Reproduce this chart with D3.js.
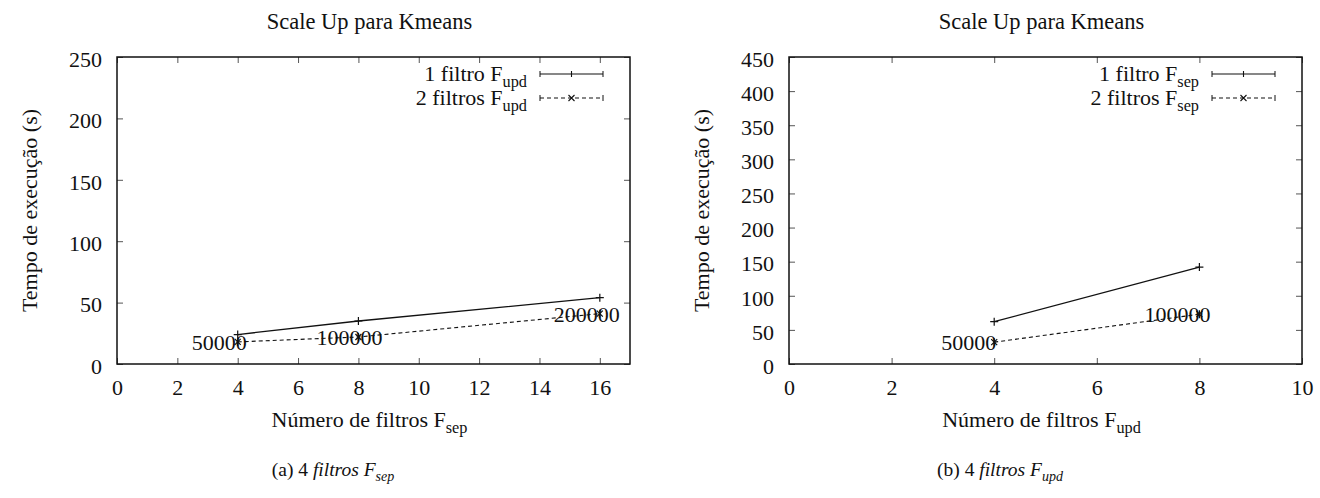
<!DOCTYPE html>
<html>
<head>
<meta charset="utf-8">
<title>Scale Up para Kmeans</title>
<script src="https://cdn.jsdelivr.net/npm/d3@7"></script>
<style>
  body { margin: 0; background: #fff; }
  svg text { font-family: "Liberation Serif", "Times New Roman", serif !important; fill: #111; }
  .axis path, .axis line { stroke: #222; }
  .axis .tick line { stroke: #555; }
</style>
</head>
<body>
<script>
// Tempos medidos (s) - painel (a): varia F_sep
const xSep = [4, 8, 16];
const tempoUmUpd = [24, 35, 54];
const tempoDoisUpd = [18, 22, 41];
const pontosSep = ["50000", "100000", "200000"];
const ticksXSep = [0, 2, 4, 6, 8, 10, 12, 14, 16];
const ticksYSep = [0, 50, 100, 150, 200, 250];

// painel (b): varia F_upd
const xUpd = [4, 8];
const tempoUmSep = [62, 142];
const tempoDoisSep = [32, 73];
const pontosUpd = ["50000", "100000"];
const ticksXUpd = [0, 2, 4, 6, 8, 10];
const ticksYUpd = [0, 50, 100, 150, 200, 250, 300, 350, 400, 450];

const W = 1320, H = 498;

const svg = d3.select("body").append("svg")
  .attr("width", W)
  .attr("height", H);

svg.append("rect").attr("width", W).attr("height", H).attr("fill", "#fff");

// texto com subscrito (ex: F_sep)
function subText(sel, main, sub, size) {
  sel.append("tspan").text(main);
  sel.append("tspan")
    .attr("dy", 6)
    .attr("font-size", size * 0.74)
    .text(sub);
}

function drawPanel(p) {
  const g = svg.append("g");
  const x = d3.scaleLinear().domain(p.xDomain).range([p.left, p.right]);
  const y = d3.scaleLinear().domain(p.yDomain).range([p.bottom, p.top]);
  const fs = 22;

  // eixos com ticks para dentro (e espelhados)
  g.append("g").attr("class", "axis")
    .attr("transform", `translate(0,${p.bottom})`)
    .call(d3.axisBottom(x).tickValues(p.xTicks).tickSizeInner(-6).tickSizeOuter(0).tickPadding(15))
    .call(a => a.select(".domain").remove())
    .selectAll("text").attr("font-size", fs);

  g.append("g").attr("class", "axis")
    .attr("transform", `translate(0,${p.top})`)
    .call(d3.axisTop(x).tickValues(p.xTicks).tickSizeInner(-6).tickSizeOuter(0).tickFormat(""))
    .call(a => a.select(".domain").remove());

  g.append("g").attr("class", "axis")
    .attr("transform", `translate(${p.left},0)`)
    .call(d3.axisLeft(y).tickValues(p.yTicks).tickSizeInner(-6).tickSizeOuter(0).tickPadding(15))
    .call(a => a.select(".domain").remove())
    .selectAll("text").attr("font-size", fs).attr("dy", "0.42em");

  g.append("g").attr("class", "axis")
    .attr("transform", `translate(${p.right},0)`)
    .call(d3.axisRight(y).tickValues(p.yTicks).tickSizeInner(-6).tickSizeOuter(0).tickFormat(""))
    .call(a => a.select(".domain").remove());

  // moldura
  g.append("rect")
    .attr("x", p.left).attr("y", p.top)
    .attr("width", p.right - p.left).attr("height", p.bottom - p.top)
    .attr("fill", "none").attr("stroke", "#111").attr("stroke-width", 1.5);

  const cx = (p.left + p.right) / 2;

  // titulo
  g.append("text")
    .attr("x", cx - 4).attr("y", 29)
    .attr("text-anchor", "middle")
    .attr("font-size", 22.5)
    .text("Scale Up para Kmeans");

  // rotulo eixo x
  const xl = g.append("text")
    .attr("x", cx - 4).attr("y", 427)
    .attr("text-anchor", "middle")
    .attr("font-size", fs);
  subText(xl, "Número de filtros F", p.xSub, fs);

  // rotulo eixo y
  g.append("text")
    .attr("transform", `translate(${p.left - 80},${(p.top + p.bottom) / 2}) rotate(-90)`)
    .attr("text-anchor", "middle")
    .attr("font-size", fs)
    .text("Tempo de execução (s)");

  // series
  const line = d3.line().x(d => x(d[0])).y(d => y(d[1]));
  const s1 = p.xs.map((v, i) => [v, p.um[i]]);
  const s2 = p.xs.map((v, i) => [v, p.dois[i]]);

  g.append("path").datum(s1).attr("d", line)
    .attr("fill", "none").attr("stroke", "#111").attr("stroke-width", 1.3);
  g.append("path").datum(s2).attr("d", line)
    .attr("fill", "none").attr("stroke", "#111").attr("stroke-width", 1.1)
    .attr("stroke-dasharray", "4,3");

  const m = 4;
  g.selectAll(".mk1").data(s1).enter().append("path")
    .attr("d", d => `M${x(d[0]) - m},${y(d[1])}h${2 * m}M${x(d[0])},${y(d[1]) - m}v${2 * m}`)
    .attr("stroke", "#111").attr("stroke-width", 1.2);
  g.selectAll(".mk2").data(s2).enter().append("path")
    .attr("d", d => `M${x(d[0]) - 3},${y(d[1]) - 3}l6,6M${x(d[0]) - 3},${y(d[1]) + 3}l6,-6M${x(d[0])},${y(d[1]) - 4}v8`)
    .attr("stroke", "#111").attr("stroke-width", 1.2);

  // rotulos dos pontos (tamanho da entrada)
  g.selectAll(".lbl").data(s2).enter().append("text")
    .attr("x", (d, i) => x(d[0]) + p.lblDx[i])
    .attr("y", d => y(d[1]))
    .attr("dy", "0.36em")
    .attr("text-anchor", "end")
    .attr("font-size", fs)
    .text((d, i) => p.labels[i]);

  // legenda
  const lx0 = p.right - 90, lx1 = p.right - 27;
  const keys = [
    { txt: "1 filtro F", dash: null, y: 74, mk: "+" },
    { txt: "2 filtros F", dash: "4,3", y: 98, mk: "x" }
  ];
  keys.forEach(k => {
    const t = g.append("text")
      .attr("x", lx0 - 13).attr("y", k.y + 7)
      .attr("text-anchor", "end")
      .attr("font-size", fs);
    subText(t, k.txt, p.legSub, fs);
    g.append("line")
      .attr("x1", lx0).attr("x2", lx1).attr("y1", k.y).attr("y2", k.y)
      .attr("stroke", "#111").attr("stroke-width", 1.1)
      .attr("stroke-dasharray", k.dash);
    g.append("path")
      .attr("d", `M${lx0},${k.y - 3}v6M${lx1},${k.y - 3}v6`)
      .attr("stroke", "#111").attr("stroke-width", 1);
    const mx = (lx0 + lx1) / 2;
    g.append("path")
      .attr("d", k.mk === "+"
        ? `M${mx},${k.y - 3}v6`
        : `M${mx - 3},${k.y - 3}l6,6M${mx - 3},${k.y + 3}l6,-6`)
      .attr("stroke", "#111").attr("stroke-width", 1.1);
  });

  // legenda da figura
  const cap = g.append("text")
    .attr("x", p.capX).attr("y", 476)
    .attr("text-anchor", "middle")
    .attr("font-size", 19.5);
  cap.append("tspan").text(p.capLetter + " 4 ");
  cap.append("tspan").attr("font-style", "italic").text("filtros F");
  cap.append("tspan").attr("font-style", "italic").attr("dy", 5).attr("font-size", 14).text(p.xSub);
}

drawPanel({
  left: 117, right: 630, top: 57, bottom: 364,
  xDomain: [0, 17], yDomain: [0, 250],
  xTicks: ticksXSep, yTicks: ticksYSep,
  xs: xSep, um: tempoUmUpd, dois: tempoDoisUpd,
  labels: pontosSep, lblDx: [9, 24, 20],
  xSub: "sep", legSub: "upd",
  capLetter: "(a)", capX: 333
});

drawPanel({
  left: 789, right: 1302, top: 57, bottom: 364,
  xDomain: [0, 10], yDomain: [0, 450],
  xTicks: ticksXUpd, yTicks: ticksYUpd,
  xs: xUpd, um: tempoUmSep, dois: tempoDoisSep,
  labels: pontosUpd, lblDx: [2, 11],
  xSub: "upd", legSub: "sep",
  capLetter: "(b)", capX: 1000
});
</script>
</body>
</html>
